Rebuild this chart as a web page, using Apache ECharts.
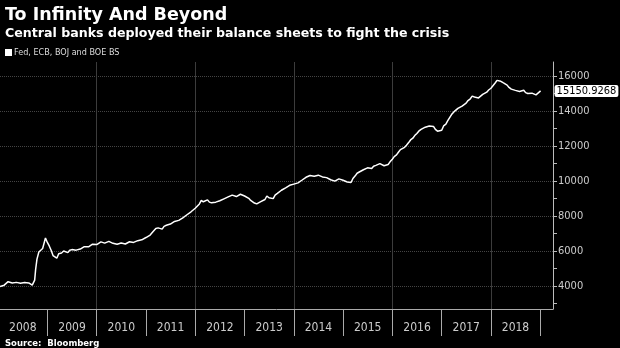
<!DOCTYPE html>
<html>
<head>
<meta charset="utf-8">
<script src="https://cdn.jsdelivr.net/npm/echarts@6/dist/echarts.min.js"></script>
<style>
html,body{margin:0;padding:0;background:#000;}
#chart{width:620px;height:348px;}
</style>
</head>
<body>
<div id="chart"></div>
<script>
const titleText = 'To Infinity And Beyond';
const subtitleText = 'Central banks deployed their balance sheets to fight the crisis';
const sourceText = 'Source:  Bloomberg';
const seriesName = 'Fed, ECB, BOJ and BOE BS';

// Early period (irregular sampling around the 2008 jump)
const earlyDates = [
'2008-01-15','2008-02-15','2008-03-15','2008-04-15','2008-05-15','2008-06-15','2008-07-15','2008-08-15','2008-09-10','2008-09-20','2008-09-28','2008-10-05','2008-10-15','2008-10-29','2008-11-12','2008-11-26','2008-12-10','2008-12-17','2008-12-31',
'2009-01-14','2009-01-28','2009-02-11','2009-02-25','2009-03-11','2009-03-25'
];
const earlyValues = [
3980,4060,4260,4180,4220,4170,4210,4190,4060,4000,4350,4950,5550,5950,6050,6150,6550,6750,6500,
6300,6050,5750,5650,5600,5850
];

// Semi-monthly readings (1st and 15th of each month), Apr 2009 - Dec 2018
const v2009 = [5820,5900, 6010,5950, 5920,6050, 6090,6000, 6060,6150, 6120,6200, 6260,6300, 6250,6350, 6400,6420];
const v2010 = [6380,6480, 6530,6500, 6460,6530, 6560,6520, 6450,6360, 6400,6420, 6470,6450, 6410,6500, 6540,6480, 6500,6560, 6600,6620, 6650,6720];
const v2011 = [6780,6850, 6920,7050, 7100,7300, 7330,7250, 7260,7420, 7480,7500, 7550,7650, 7700,7800, 7760,7850, 7900,8000, 8080,8150, 8250,8350];
const v2012 = [8450,8550, 8700,8900, 8820,8880, 8930,8800, 8760,8720, 8800,8850, 8880,8950, 8990,9050, 9100,9150, 9200,9100, 9120,9200, 9250,9180];
const v2013 = [9150,9100, 9020,8900, 8800,8750, 8700,8780, 8830,8850, 8950,9150, 9050,8950, 9000,9200, 9300,9400, 9480,9550, 9620,9700, 9760,9800];
const v2014 = [9830,9850, 9900,9950, 10050,10150, 10220,10280, 10320,10300, 10280,10320, 10340,10290, 10240,10260, 10200,10150, 10080,10050, 10000,10080, 10130,10100];
const v2015 = [10050,10000, 9950,9880, 9920,10150, 10300,10450, 10520,10600, 10650,10720, 10760,10650, 10720,10850, 10900,10970, 11000,10950, 10880,10830, 10950,11100];
const v2016 = [11250,11400, 11500,11650, 11800,11850, 11930,12050, 12200,12350, 12450,12600, 12720,12850, 12950,13000, 13080,13100, 13150,13200, 13120,12950, 12850,12750];
const v2017 = [12900,13150, 13250,13450, 13520,13800, 13950,14050, 14150,14200, 14280,14350, 14450,14600, 14700,14850, 14800,14700, 14750,14850, 14950,15000, 15080,15200];
const v2018 = [15300,15400, 15600,15750, 15800,15700, 15620,15550, 15480,15350, 15250,15200, 15180,15150, 15120,15200, 15190,15050, 15000,14980, 15020,14950, 14920,15000];

const lastDate = '2019-01-04';
const lastValue = 15150.9268;

const yearLabels = ['2008','2009','2010','2011','2012','2013','2014','2015','2016','2017','2018'];
const yearSeparators = ['2009','2010','2011','2012','2013','2014','2015','2016','2017','2018','2019'];
const verticalGridYears = ['2010','2012','2014','2016','2018'];
const yTickValues = [3000,4000,5000,6000,7000,8000,9000,10000,11000,12000,13000,14000,15000,16000];
const yLabelValues = [4000,6000,8000,10000,12000,14000,16000];

const ts = s => { const p = s.split('-').map(Number); return Date.UTC(p[0], (p[1]||1)-1, p[2]||1); };

// assemble series
const data = earlyDates.map((d,i) => [ts(d), earlyValues[i]]);
const semi = [v2009, v2010, v2011, v2012, v2013, v2014, v2015, v2016, v2017, v2018];
semi.forEach((arr, yi) => {
  const year = 2009 + yi;
  const startMonth = year === 2009 ? 3 : 0;
  arr.forEach((v, k) => {
    const m = startMonth + Math.floor(k / 2);
    const day = k % 2 === 0 ? 1 : 15;
    data.push([Date.UTC(year, m, day), v]);
  });
});
data.push([ts(lastDate), lastValue]);

const xMin = ts('2008-01-15'), xMax = ts('2019-04-06');
const yMin = 2700, yMax = 16800;

const chart = echarts.init(document.getElementById('chart'), null, {renderer:'canvas'});
const condensed = '"DejaVu Sans Condensed", "Liberation Sans Narrow", sans-serif';
chart.setOption({
  backgroundColor: '#000',
  animation: false,
  title: [
    {text: titleText, left: 0, top: 1, textStyle: {color:'#fff', fontSize: 17.5, fontWeight:'bold', fontFamily:'"DejaVu Sans", sans-serif'}},
    {text: subtitleText, left: 0, top: 22, textStyle: {color:'#fff', fontSize: 12.6, fontWeight:'bold', fontFamily:'"DejaVu Sans", sans-serif'}},
    {text: sourceText, left: 0, top: 334, textStyle: {color:'#fff', fontSize: 8.5, fontWeight:'bold', fontFamily:'"DejaVu Sans", sans-serif'}}
  ],
  legend: {
    left: 0, top: 43, itemWidth: 7, itemHeight: 7, icon: 'rect',
    data: [seriesName],
    textStyle: {color:'#ddd', fontSize: 9, fontFamily: condensed, padding:[0,0,0,-3]}
  },
  grid: {left: 0, right: 67, top: 62, bottom: 39, containLabel: false},
  xAxis: [
    {
      type: 'value', min: xMin, max: xMax,
      axisLine: {show: true, lineStyle: {color:'#aaa', width:1}},
      axisTick: {show: true, length: 27, customValues: yearSeparators.map(y => ts(y)), lineStyle:{color:'#aaa'}},
      axisLabel: {show: true, customValues: yearLabels.map(y => ts(y + '-07-02')), formatter: v => String(new Date(v).getUTCFullYear()),
        color:'#ccc', fontSize: 12, fontFamily: condensed, margin: 13},
      splitLine: {show: false}
    },
    {
      type: 'value', min: xMin, max: xMax, position: 'bottom',
      axisLine: {show:false}, axisLabel:{show:false},
      axisTick: {show:false, customValues: verticalGridYears.map(y => ts(y))},
      splitLine: {show:true, lineStyle:{color:'#3c3c3c', width:1}}
    }
  ],
  yAxis: [
    {
      type: 'value', position: 'right', min: yMin, max: yMax,
      axisLine: {show: true, lineStyle: {color:'#bbb'}},
      axisTick: {show: true, length: 4, customValues: yTickValues, lineStyle:{color:'#bbb'}},
      axisLabel: {show: true, customValues: yLabelValues, formatter: v => String(v), color:'#ccc', fontSize: 11, fontFamily: condensed, margin: 5},
      splitLine: {show: false}
    },
    {
      type: 'value', position: 'right', min: yMin, max: yMax,
      axisLine:{show:false}, axisLabel:{show:false},
      axisTick:{show:false, customValues: yLabelValues},
      splitLine:{show:true, lineStyle:{color:'#444', type:[1,1], width:1}}
    }
  ],
  series: [{
    name: seriesName, type: 'line', xAxisIndex: 0, yAxisIndex: 0,
    data: data, showSymbol: false, symbol: 'none',
    lineStyle: {color:'#fff', width: 1.5},
    itemStyle: {color:'#fff'},
    endLabel: {
      show: true, distance: 14,
      formatter: p => String(p.value[1]),
      color:'#000', backgroundColor:'#fff', borderRadius: 2, padding:[1,2,0,2],
      fontSize: 11, fontFamily: condensed
    }
  }]
});
</script>
</body>
</html>
